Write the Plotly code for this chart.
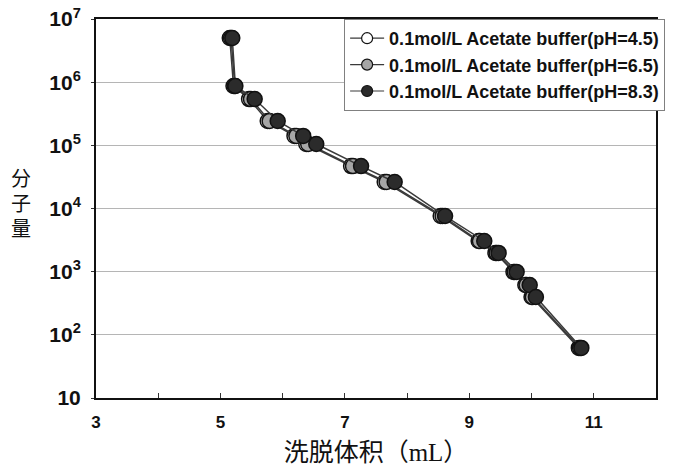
import plotly.graph_objects as go

# Molecular weight standards (y) and elution volumes (x) for each buffer
mw = [5000000, 870000, 540000, 243000, 141000, 105000, 47000, 26300, 7600, 3060, 1980, 990, 615, 397, 62]
x_ph45 = [5.15, 5.21, 5.46, 5.76, 6.19, 6.38, 7.10, 7.64, 8.54, 9.15, 9.42, 9.71, 9.90, 10.00, 10.76]
x_ph65 = [5.17, 5.23, 5.49, 5.79, 6.22, 6.41, 7.13, 7.67, 8.57, 9.17, 9.44, 9.73, 9.92, 10.02, 10.78]
x_ph83 = [5.19, 5.24, 5.55, 5.92, 6.33, 6.54, 7.26, 7.80, 8.61, 9.24, 9.47, 9.76, 9.97, 10.07, 10.80]

names = ["0.1mol/L Acetate buffer(pH=4.5)",
         "0.1mol/L Acetate buffer(pH=6.5)",
         "0.1mol/L Acetate buffer(pH=8.3)"]
fills = ["#ffffff", "#a6a6a6", "#2b2b2b"]

x_tickvals = [3, 4, 5, 6, 7, 8, 9, 10, 11, 12]
x_ticktext = ["3", "", "5", "", "7", "", "9", "", "11", ""]
y_tickvals = [10, 100, 1000, 10000, 100000, 1000000, 10000000]
y_ticktext = ["10", "10<sup>2</sup>", "10<sup>3</sup>", "10<sup>4</sup>",
              "10<sup>5</sup>", "10<sup>6</sup>", "10<sup>7</sup>"]
y_title_chars = ["分", "子", "量"]

fig = go.Figure()
for xs, nm, fc in zip([x_ph45, x_ph65, x_ph83], names, fills):
    fig.add_trace(go.Scatter(
        x=xs, y=mw, mode="lines+markers", name=nm, showlegend=False,
        line=dict(color="#3a3a3a", width=1.5),
        marker=dict(size=15, color=fc, line=dict(color="#111111", width=1.5)),
    ))
# legend entries (smaller symbols, as in the reference legend)
for nm, fc in zip(names, fills):
    fig.add_trace(go.Scatter(
        x=[None], y=[None], mode="lines+markers", name=nm, showlegend=True,
        line=dict(color="#3a3a3a", width=1.2),
        marker=dict(size=11, color=fc, line=dict(color="#111111", width=1.2)),
    ))

annotations = []
for i, ch in enumerate(y_title_chars):
    py = 177 + 25 * i
    annotations.append(dict(
        text=ch, xref="paper", yref="paper",
        x=(21-96)/562, y=(398-py)/379, showarrow=False,
        font=dict(size=20, family="Noto Sans CJK SC, serif", color="#111111"),
        xanchor="center", yanchor="middle",
    ))

fig.update_layout(
    width=677, height=468,
    margin=dict(l=96, r=19, t=19, b=70),
    paper_bgcolor="white", plot_bgcolor="white",
    font=dict(family="Arial, Liberation Sans, sans-serif", color="#111111"),
    showlegend=True,
    legend=dict(
        x=(345-96)/562, y=1.0, xanchor="left", yanchor="top",
        bgcolor="white", bordercolor="#808080", borderwidth=1,
        font=dict(family="Arial, Liberation Sans, sans-serif", size=18, color="#111111", weight="bold"),
        itemwidth=34, tracegroupgap=0,
    ),
    xaxis=dict(
        range=[3, 12], tickvals=x_tickvals, ticktext=x_ticktext, automargin=False,
        ticks="inside", ticklen=5, tickwidth=1, tickcolor="#333333",
        showline=True, linecolor="#111111", linewidth=2, mirror=True,
        showgrid=False, zeroline=False,
        tickfont=dict(size=17, weight="bold", family="Arial, Liberation Sans, sans-serif"),
        ticklabelstandoff=8,
        title=dict(text="洗脱体积（mL）", standoff=12,
                   font=dict(size=25, family="Liberation Serif, Noto Sans CJK SC, serif", color="#111111")),
    ),
    yaxis=dict(
        type="log", range=[1, 7], tickvals=y_tickvals, ticktext=y_ticktext, automargin=False,
        ticks="outside", ticklen=3, tickcolor="#333333",
        showline=True, linecolor="#111111", linewidth=2, mirror=True,
        showgrid=True, gridcolor="#b5b5b5", gridwidth=1, zeroline=False,
        tickfont=dict(size=21, weight="bold", family="Arial, Liberation Sans, sans-serif"),
        ticklabelstandoff=6,
    ),
    annotations=annotations,
)

fig.write_html("out.html")
